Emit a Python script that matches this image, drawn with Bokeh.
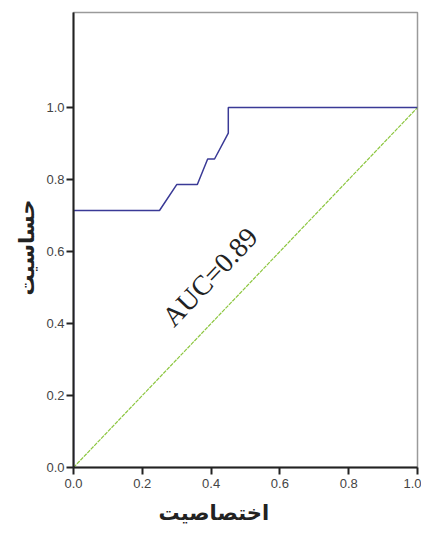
from bokeh.plotting import figure
from bokeh.models import Range1d, Label, FixedTicker, CustomJSTickFormatter, Title
from bokeh.embed import file_html
from bokeh.resources import INLINE

# ROC curve (1 - specificity, sensitivity)
fpr = [0.0, 0.0, 0.25, 0.30, 0.36, 0.39, 0.41, 0.45, 0.45, 1.0]
tpr = [0.0, 0.714, 0.714, 0.786, 0.786, 0.857, 0.857, 0.929, 1.0, 1.0]
ref_x = [0.0, 1.0]
ref_y = [0.0, 1.0]
ticks = [0.0, 0.2, 0.4, 0.6, 0.8, 1.0]
auc_text = "AUC=0.89"
x_title = "اختصاصیت"
y_title = "حساسیت"

p = figure(width=421, height=537, frame_width=344, frame_height=455,
           output_backend="svg", toolbar_location=None,
           x_range=Range1d(0, 1.0), y_range=Range1d(0, 1.264),
           min_border_left=73, min_border_right=4, min_border_top=12,
           min_border_bottom=70)
p.grid.visible = False
p.background_fill_color = "white"
p.outline_line_color = "#9a9a9a"
p.outline_line_width = 1.5

for ax in (p.xaxis, p.yaxis):
    ax.ticker = FixedTicker(ticks=ticks)
    ax.formatter = CustomJSTickFormatter(code="return tick.toFixed(1);")
    ax.axis_line_color = "#222222"
    ax.axis_line_width = 2
    ax.major_tick_line_color = "#222222"
    ax.major_tick_line_width = 2
    ax.major_tick_out = 7
    ax.major_tick_in = 0
    ax.minor_tick_line_color = None
    ax.major_label_text_font = "Liberation Sans"
    ax.major_label_text_font_size = "13px"
    ax.major_label_text_color = "#444444"
p.xaxis.major_label_standoff = 4
p.yaxis.major_label_standoff = 2

# axis titles as Title annotations in the side panels
p.add_layout(Title(text=x_title, align="left", offset=85, standoff=16,
                   text_font="DejaVu Sans", text_font_style="bold",
                   text_font_size="21px", text_color="#222222"), "below")
p.add_layout(Title(text=y_title, align="left", offset=172, standoff=10,
                   text_font="DejaVu Sans", text_font_style="bold",
                   text_font_size="21px", text_color="#222222"), "left")

p.line(ref_x, ref_y, line_color="#8cc63f", line_width=1.2, line_dash="4 1")
p.line(fpr, tpr, line_color="#3a3a96", line_width=1.5)

p.add_layout(Label(x=0.305, y=0.375, text=auc_text, angle=46.4, angle_units="deg",
                   text_font="Liberation Serif", text_font_size="28px",
                   text_color="#222222", text_font_style="normal"))

open("out.html", "w").write(file_html(p, INLINE))
